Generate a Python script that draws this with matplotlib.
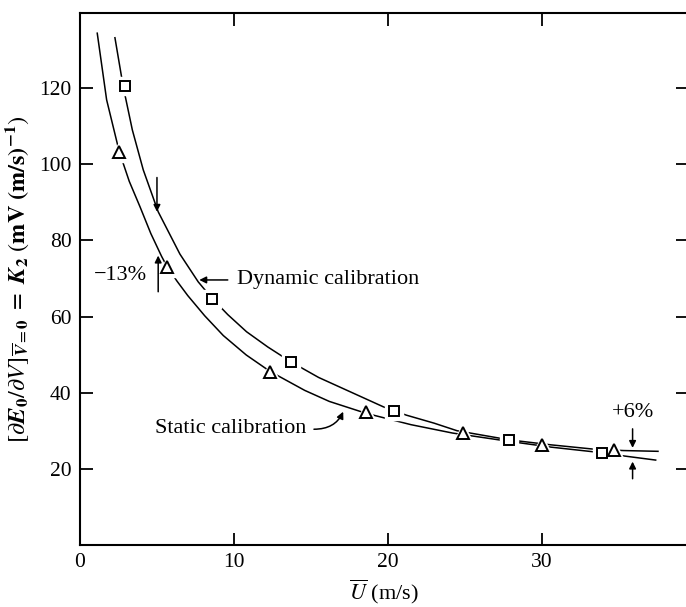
import matplotlib
matplotlib.use("Agg")
import matplotlib.pyplot as plt

plt.rcParams['font.family'] = ['Liberation Serif', 'DejaVu Serif']
plt.rcParams['mathtext.fontset'] = 'stix'

# calibration curves
dyn_curve_x = [2.27, 2.81, 3.4, 4.11, 5.08, 6.49, 7.68, 8.55, 9.6, 10.82, 12.2, 13.7, 15.5,
               17.3, 19.7, 21.2, 23.0, 24.5, 26.2, 27.9, 30.6, 33.3, 35.3, 37.55]
dyn_curve_y = [133.2, 120.3, 109.0, 98.5, 87.5, 76.4, 69.1, 64.9, 60.5, 56.0, 52.0, 48.1, 44.0,
               40.7, 36.3, 34.1, 32.0, 30.0, 28.8, 27.6, 26.3, 25.2, 24.8, 24.6]

stat_curve_x = [1.12, 1.73, 2.55, 3.2, 3.9, 4.6, 5.3, 5.63, 6.3, 7.0, 8.1, 9.31, 10.8, 12.34,
                14.6, 16.2, 18.57, 21.5, 24.2, 27.9, 30.6, 33.3, 35.3, 37.4]
stat_curve_y = [134.4, 116.9, 103.3, 95.5, 88.8, 81.8, 75.8, 73.3, 69.3, 65.5, 60.2, 55.0, 49.9,
                45.6, 40.6, 37.7, 34.6, 31.6, 29.4, 27.2, 25.7, 24.5, 23.4, 22.3]

# measured points
dyn_pts_x = [2.92, 8.55, 13.7, 20.4, 27.9, 33.9]
dyn_pts_y = [120.5, 64.6, 48.1, 35.2, 27.6, 24.2]
stat_pts_x = [2.55, 5.63, 12.34, 18.57, 24.85, 30.0, 34.7]
stat_pts_y = [103.3, 73.1, 45.5, 34.8, 29.3, 26.3, 24.9]

x_ticks = [0, 10, 20, 30]
y_ticks = [20, 40, 60, 80, 100, 120]

fig = plt.figure(figsize=(6.86, 6.07), dpi=100)
ax = fig.add_axes([80 / 686, 62 / 607, 608 / 686, 532 / 607])

ax.plot(dyn_curve_x, dyn_curve_y, color='k', lw=1.1, zorder=2)
ax.plot(stat_curve_x, stat_curve_y, color='k', lw=1.1, zorder=2)

# white halo under the markers so the curves look broken around them
ax.plot(dyn_pts_x, dyn_pts_y, 's', ms=13, color='white', zorder=3)
ax.plot(stat_pts_x, stat_pts_y, '^', ms=14, color='white', zorder=3)
ax.plot(dyn_pts_x, dyn_pts_y, 's', ms=7.5, mfc='white', mec='k', mew=1.4, zorder=4)
ax.plot(stat_pts_x, stat_pts_y, '^', ms=8.5, mfc='white', mec='k', mew=1.4, zorder=4)

arr = dict(arrowstyle='-|>', color='k', lw=1.1, mutation_scale=10, shrinkA=0, shrinkB=0)

# -13 % marker
ax.annotate('', xy=(5.0, 87.5), xytext=(5.0, 96.5), arrowprops=arr)
ax.annotate('', xy=(5.08, 76.0), xytext=(5.08, 66.5), arrowprops=arr)
ax.text(2.6, 70.9, '\u221213%', fontsize=16, ha='center', va='center')

# +6 % marker
ax.annotate('', xy=(35.9, 25.5), xytext=(35.9, 30.5), arrowprops=arr)
ax.annotate('', xy=(35.9, 21.9), xytext=(35.9, 17.4), arrowprops=arr)
ax.text(35.9, 34.8, '+6%', fontsize=16, ha='center', va='center')

ax.annotate('', xy=(7.75, 69.6), xytext=(9.6, 69.6), arrowprops=arr)
ax.text(10.2, 69.6, 'Dynamic calibration', fontsize=16, ha='left', va='center')

ax.annotate('', xy=(17.1, 35.0), xytext=(15.2, 30.4),
            arrowprops=dict(arrowstyle='-|>', color='k', lw=1.1, mutation_scale=10,
                            shrinkA=0, shrinkB=0,
                            connectionstyle='angle3,angleA=0,angleB=65'))
ax.text(14.7, 30.6, 'Static calibration', fontsize=16, ha='right', va='center')

ax.set_xlim(0, 39.5)
ax.set_ylim(0, 139.7)
ax.set_xticks(x_ticks)
ax.set_yticks(y_ticks)
ax.tick_params(direction='in', length=9, width=1.3, labelsize=15.5,
               top=True, right=True, pad=6)
for s in ax.spines.values():
    s.set_linewidth(1.5)

ax.set_xlabel(r'$\overline{U}$ (m/s)', fontsize=16, labelpad=4)
ax.set_ylabel(r'$[\partial \mathbfit{E}_\mathbf{0}/\partial V]_{\overline{\mathbfit{V}}=\mathbf{0}}\ =\ '
              r'\mathbfit{K}_\mathbf{2}\ (\mathbf{mV\ (m/s)^{-1}})$', fontsize=17.5, labelpad=6)

fig.savefig('out.png', dpi=100)
